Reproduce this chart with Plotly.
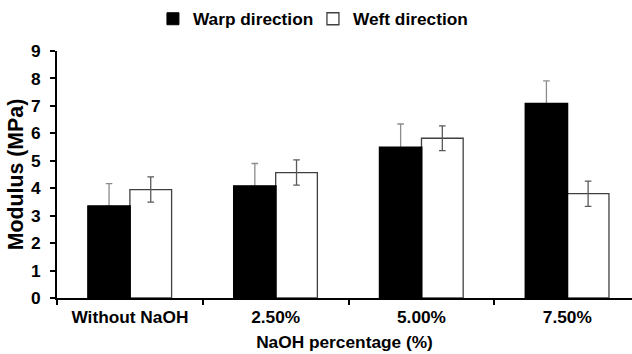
import plotly.graph_objects as go

categories = ["Without NaOH", "2.50%", "5.00%", "7.50%"]
warp_values = [3.34, 4.07, 5.48, 7.08]
warp_errors = [0.83, 0.83, 0.86, 0.83]
weft_values = [3.95, 4.57, 5.82, 3.80]
weft_errors = [0.46, 0.46, 0.45, 0.46]

FONT = "Arial, Liberation Sans, sans-serif"
BOLD = dict(family=FONT, size=17.3, color="black", weight="bold")
YTITLE = dict(family=FONT, size=21.3, color="black", weight="bold")

fig = go.Figure()
fig.add_trace(go.Bar(
    name="Warp direction", x=categories, y=warp_values, offsetgroup="warp",
    marker=dict(color="black", line=dict(color="black", width=1)),
    error_y=dict(type="data", array=warp_errors, arrayminus=[0]*4, symmetric=False,
                 color="#8c8c8c", thickness=1.3, width=3.3),
))
fig.add_trace(go.Bar(
    name="Weft direction", x=categories, y=weft_values, offsetgroup="weft",
    marker=dict(color="white", line=dict(color="#404040", width=1.3)),
    error_y=dict(type="data", array=weft_errors, color="#595959", thickness=1.3, width=3.3),
))
# same warp bars drawn again on top to hide the lower error-bar cap
fig.add_trace(go.Bar(
    name="Warp direction", x=categories, y=warp_values, offsetgroup="warp",
    marker=dict(color="black", line=dict(color="black", width=2)),
    showlegend=False, hoverinfo="skip",
))

fig.update_layout(
    width=632, height=354,
    margin=dict(l=57, r=0, t=51, b=56, autoexpand=False),
    paper_bgcolor="white", plot_bgcolor="white",
    barmode="group", bargap=0.428, bargroupgap=0,
    font=BOLD,
    legend=dict(orientation="h", xref="container", x=0.242, xanchor="left",
                yref="container", y=1 - 19 / 354, yanchor="middle",
                font=BOLD, itemwidth=30, entrywidth=115, traceorder="normal"),
    showlegend=True,
)
fig.update_xaxes(
    range=[-0.5, 3.444],
    showline=True, linecolor="black", linewidth=2,
    ticks="outside", tickson="boundaries", ticklen=5, tickwidth=2, tickcolor="black",
    ticklabelstandoff=2,
    showgrid=False, zeroline=False,
    title=dict(text="NaOH percentage (%)", standoff=10, font=BOLD),
    tickfont=BOLD,
)
fig.update_yaxes(
    range=[0, 9], dtick=1,
    showline=True, linecolor="black", linewidth=2,
    ticks="outside", ticklen=5, tickwidth=2, tickcolor="black",
    ticklabelstandoff=6,
    showgrid=False, zeroline=False,
    title=dict(text="Modulus (MPa)", standoff=1, font=YTITLE),
    tickfont=BOLD,
)

fig.write_html("out.html", config={"displayModeBar": False},
               post_script="document.body.style.margin='0';")
